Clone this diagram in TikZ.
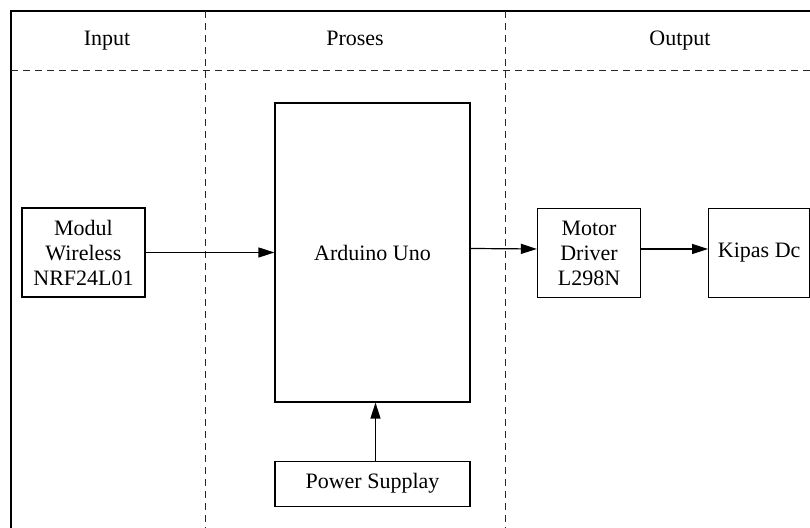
\documentclass[tikz,border=0pt]{standalone}
\usepackage{fontspec}
\setmainfont{Liberation Serif}
\usetikzlibrary{arrows.meta,positioning}
\begin{document}
\begin{tikzpicture}
[x=0.5pt, y=-0.5pt, font=\fontsize{11}{12.5}\selectfont, line width=0.6pt]
\tikzstyle{block}=[rectangle, draw, fill=white, align=center, inner sep=1pt]
\tikzstyle{head}=[anchor=base, inner sep=0pt]
\tikzstyle{lane}=[dash pattern=on 3.5pt off 2.5pt, line width=0.5pt, black!85]
\tikzstyle{flow}=[-{Triangle[length=8pt,width=5pt]}]
\useasboundingbox (0,0) rectangle (810,528);

% frame and lanes
\draw (810,11) -- (11,11) -- (11,528);
\draw[lane] (11,71) -- (810,71);
\draw[lane] (205,11) -- (205,528);
\draw[lane] (505,11) -- (505,528);

\node[head] (Hin)  at (107,46) {Input};
\node[head] (Hpro) at (355,46) {Proses};
\node[head] (Hout) at (680,46) {Output};

\node[block, minimum width=61.5pt, minimum height=44.5pt] (modul)   at (83.5,252.5) {Modul\\Wireless\\NRF24L01};
\node[block, minimum width=97.5pt, minimum height=149.5pt] (arduino) at (372.5,252.5) {Arduino Uno};
\node[block, minimum width=97.5pt, minimum height=22.5pt] (power)  [below=29pt of arduino] {Power Supplay};
\node[block, minimum width=51.5pt, minimum height=44.5pt] (motor)   at (589,253) {Motor\\Driver\\L298N};
\node[block, minimum width=50.5pt, minimum height=44.5pt] (kipas)  [right=33.5pt of motor] {Kipas Dc};

\draw[flow] (modul) -- (arduino);
\draw[flow] ([yshift=2pt]arduino.east) -- ([yshift=2pt]motor.west);
\draw[flow] ([yshift=2pt]motor.east) -- ([yshift=2pt]kipas.west);
\draw[flow] ([xshift=1.5pt]power.north) -- ([xshift=1.5pt]arduino.south);
\end{tikzpicture}
\end{document}
